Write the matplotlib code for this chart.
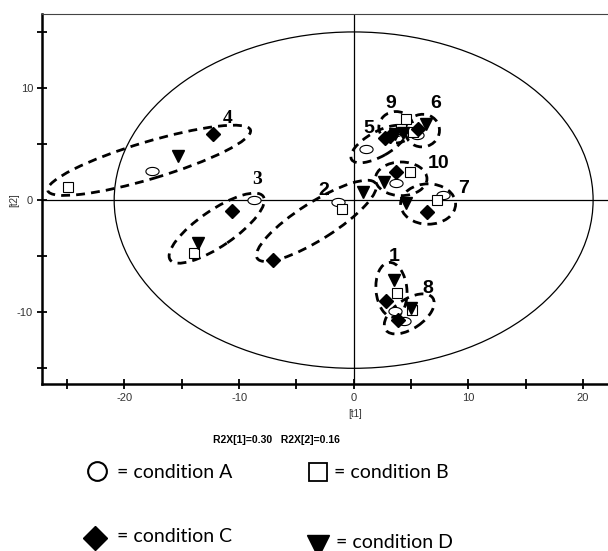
import numpy as np
import matplotlib.pyplot as plt
from matplotlib.patches import Ellipse
from matplotlib.lines import Line2D
from matplotlib.path import Path

plt.rcParams['axes.unicode_minus'] = False

### data: scores [t1], [t2] for each group (1..10) ###
groups = ['1', '2', '3', '4', '5', '6', '7', '8', '9', '10']

# condition A (open circles)
a_t1 = [3.6, -1.35, -8.7, -17.6, 1.1, 5.5, 7.8, 4.4, 3.7, 3.7]
a_t2 = [-9.9, -0.15, 0.0, 2.6, 4.6, 5.8, 0.45, -10.8, 6.1, 1.55]
# condition B (open squares)
b_t1 = [3.8, -1.0, -13.9, -24.9, 4.1, 5.2, 7.3, 5.1, 4.6, 4.9]
b_t2 = [-8.25, -0.83, -4.7, 1.13, 6.3, 6.1, 0.0, -9.8, 7.2, 2.5]
# condition C (filled diamonds)
c_t1 = [2.8, -7.0, -10.6, -12.3, 3.2, 5.6, 6.4, 3.9, 2.7, 3.7]
c_t2 = [-9.0, -5.3, -0.95, 5.9, 5.7, 6.3, -1.1, -10.7, 5.5, 2.5]
# condition D (filled down triangles)
d_t1 = [3.5, 0.84, -13.6, -15.3, 3.6, 6.3, 4.6, 5.0, 4.3, 2.65]
d_t2 = [-7.1, 0.74, -3.8, 3.9, 5.9, 6.8, -0.3, -9.6, 6.0, 1.6]

# dashed rings around each group: centre, width, height, angle
grp_cx = [3.3, -3.25, -11.95, -17.85, 2.2, 6.0, 6.5, 4.85, 3.7, 4.15]
grp_cy = [-8.0, -1.85, -2.5, 3.55, 5.0, 6.2, -0.35, -10.15, 6.5, 1.9]
grp_w = [2.7, 12.3, 9.9, 18.5, 5.5, 3.0, 4.8, 5.0, 3.0, 4.5]
grp_h = [4.9, 3.3, 3.2, 3.3, 2.2, 2.9, 3.6, 2.6, 2.8, 3.0]
grp_ang = [5, 33, 35, 17, 30, 20, 0, 35, 0, 0]

# where the group numbers sit
lab_x = [3.55, -2.6, -8.4, -11.0, 1.3, 7.2, 9.6, 6.5, 3.2, 7.4]
lab_y = [-5.05, 0.9, 1.8, 7.3, 6.4, 8.6, 1.0, -7.9, 8.6, 3.3]

# Hotelling T2 ellipse semi axes
t2_a = 20.9
t2_b = 15.0

### figure ###
fig = plt.figure(figsize=(6.08, 5.51), dpi=100)
ax = fig.add_axes([42 / 608, 1 - 384 / 551, 1 - 42 / 608, (384 - 14) / 551])
ax.set_xlim(-27.2, 22.2)
ax.set_ylim(-16.4, 16.6)

# flattened circle marker like the original software
th = np.linspace(0, 2 * np.pi, 60)
oval = Path(np.column_stack([np.cos(th), 0.62 * np.sin(th)]), closed=True)

ax.add_patch(Ellipse((0, 0), 2 * t2_a, 2 * t2_b, fill=False, lw=0.9, color='black'))
ax.axhline(0, color='black', lw=0.9, zorder=1)
ax.axvline(0, color='black', lw=0.9, zorder=1)

for i in range(len(groups)):
	ax.add_patch(Ellipse((grp_cx[i], grp_cy[i]), grp_w[i], grp_h[i], angle=grp_ang[i],
		fill=False, lw=2.0, color='black', linestyle=(0, (3.2, 2.2)), zorder=3))
	fam = 'Liberation Serif' if groups[i] in ('3', '4') else 'Liberation Sans'
	ax.text(lab_x[i], lab_y[i], groups[i], fontsize=14, fontweight='bold', family=fam,
		ha='center', va='center', zorder=5)

ax.plot(a_t1, a_t2, ls='none', marker=oval, ms=9.5, mfc='white', mec='black', mew=0.8, zorder=4)
ax.plot(b_t1, b_t2, ls='none', marker='s', ms=7.8, mfc='white', mec='black', mew=0.8, zorder=4)
ax.plot(c_t1, c_t2, ls='none', marker='D', ms=7.0, mfc='black', mec='black', zorder=4)
ax.plot(d_t1, d_t2, ls='none', marker='v', ms=8.8, mfc='black', mec='black', zorder=4)

# axes frame and ticks
ax.spines['right'].set_visible(False)
ax.spines['top'].set_linewidth(0.8)
ax.spines['top'].set_color('#444444')
ax.spines['left'].set_linewidth(1.8)
ax.spines['bottom'].set_linewidth(1.8)
ax.set_xticks([-20, -10, 0, 10, 20])
ax.set_xticks([-25, -15, -5, 5, 15], minor=True)
ax.set_yticks([-10, 0, 10])
ax.set_yticks([-15, -5, 5, 15], minor=True)
ax.tick_params(which='both', direction='inout', length=7, width=1.3)
ax.tick_params(axis='both', labelsize=8, labelcolor='#333333', pad=3)
for lbl in ax.get_xticklabels() + ax.get_yticklabels():
	lbl.set_family('Liberation Sans')

fig.text(355 / 608, 1 - 414 / 551, '[t1]', fontsize=7, family='Liberation Sans',
	color='#333333', ha='center', va='center')
fig.text(14 / 608, 1 - 200 / 551, '[t2]', fontsize=7, family='Liberation Sans',
	color='#333333', ha='center', va='center', rotation=90)
fig.text(276 / 608, 1 - 440 / 551, 'R2X[1]=0.30   R2X[2]=0.16', fontsize=7.5,
	fontweight='bold', family='Liberation Sans', ha='center', va='center')

# legend drawn by hand below the plot
leg_font = dict(fontsize=14, family='Lato', va='center', ha='left')
fig.add_artist(Line2D([97 / 608], [1 - 471 / 551], transform=fig.transFigure, marker='o',
	ms=13.5, mfc='white', mec='black', mew=1.5))
fig.text(117 / 608, 1 - 472 / 551, '= condition A', **leg_font)
fig.add_artist(Line2D([318 / 608], [1 - 472 / 551], transform=fig.transFigure, marker='s',
	ms=12.5, mfc='white', mec='black', mew=1.3))
fig.text(334 / 608, 1 - 472 / 551, '= condition B', **leg_font)
fig.add_artist(Line2D([95 / 608], [1 - 538 / 551], transform=fig.transFigure, marker='D',
	ms=12.0, mfc='black', mec='black'))
fig.text(117 / 608, 1 - 537 / 551, '= condition C', **leg_font)
fig.add_artist(Line2D([318 / 608], [1 - 546 / 551], transform=fig.transFigure, marker='v',
	ms=16.0, mfc='black', mec='black'))
fig.text(336 / 608, 1 - 542 / 551, '= condition D', **leg_font)

fig.savefig('out.png', dpi=100)
